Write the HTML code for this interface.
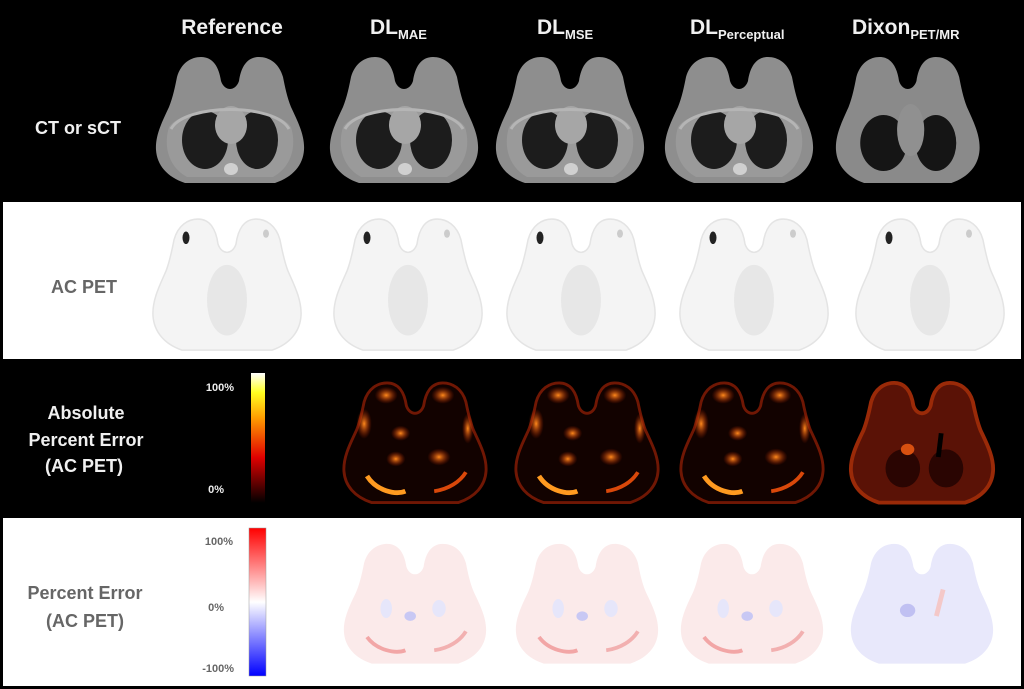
<!DOCTYPE html>
<html><head><meta charset="utf-8"><style>
html,body{margin:0;padding:0;background:#000;}
svg{display:block;}
text{font-family:"Liberation Sans",sans-serif;font-weight:bold;}
</style></head><body>
<svg width="1024" height="689" viewBox="0 0 1024 689" xmlns="http://www.w3.org/2000/svg">
<defs>
<path id="torso" d="M30,128 C12,122 2,110 1,95 C0,80 8,65 14,52 C18,42 20,32 22,22 C26,8 36,2 46,2 C58,2 64,12 66,26 C68,32 72,34 75,34 C78,34 82,32 84,26 C86,12 92,2 104,2 C114,2 124,8 128,22 C130,32 132,42 136,52 C142,65 150,80 149,95 C148,110 138,122 120,128 Z"/>
<g id="ct">
<use href="#torso" fill="#8e8e8e"/>
<path d="M14,72 C30,48 120,48 136,72 C142,92 136,112 118,122 L32,122 C14,112 8,92 14,72Z" fill="#9a9a9a"/>
<ellipse cx="50" cy="85" rx="23" ry="29" fill="#1c1c1c"/>
<ellipse cx="102" cy="85" rx="21" ry="29" fill="#1c1c1c"/>
<ellipse cx="76" cy="70" rx="16" ry="19" fill="#a6a6a6"/>
<ellipse cx="76" cy="114" rx="7" ry="6" fill="#d0d0d0"/>
<path d="M16,74 C30,48 120,48 134,74" fill="none" stroke="#b5b5b5" stroke-width="3"/>
</g>
<g id="pet">
<use href="#torso" fill="#f4f4f4" stroke="#e4e4e4" stroke-width="1.5"/>
<ellipse cx="75" cy="80" rx="20" ry="34" fill="#e4e4e4" opacity="0.8"/>
<ellipse cx="34" cy="20" rx="3.5" ry="6" fill="#222"/>
<ellipse cx="114" cy="16" rx="3" ry="4" fill="#ccc"/>
</g>
<radialGradient id="hot" cx="50%" cy="50%" r="50%"><stop offset="0" stop-color="#ff8a1c"/><stop offset="1" stop-color="#b02000" stop-opacity="0"/></radialGradient>
<g id="abs">
<use href="#torso" fill="#120200"/>
<use href="#torso" fill="none" stroke="#8a1d05" stroke-width="3" opacity="0.8"/>
<path d="M25,100 C35,116 55,120 65,116" stroke="#ff9a20" stroke-width="5" fill="none"/>
<path d="M95,116 C110,114 122,106 128,96" stroke="#d9480a" stroke-width="4" fill="none"/>
<ellipse cx="60" cy="55" rx="10" ry="8" fill="url(#hot)"/>
<ellipse cx="55" cy="82" rx="10" ry="8" fill="url(#hot)"/>
<ellipse cx="100" cy="80" rx="12" ry="9" fill="url(#hot)"/>
<ellipse cx="22" cy="45" rx="8" ry="16" fill="url(#hot)"/>
<ellipse cx="130" cy="50" rx="6" ry="16" fill="url(#hot)"/>
<ellipse cx="45" cy="15" rx="12" ry="9" fill="url(#hot)"/>
<ellipse cx="104" cy="15" rx="12" ry="9" fill="url(#hot)"/>
</g>
<g id="pe">
<use href="#torso" fill="#fbeaea"/>
<path d="M25,100 C35,114 55,118 65,114" stroke="#f2a6a6" stroke-width="4" fill="none"/>
<path d="M95,114 C110,112 122,104 128,94" stroke="#f2b0b0" stroke-width="4" fill="none"/>
<ellipse cx="70" cy="78" rx="6" ry="5" fill="#c8c8f4"/>
<ellipse cx="45" cy="70" rx="6" ry="10" fill="#e6e6fa"/>
<ellipse cx="100" cy="70" rx="7" ry="9" fill="#e6e6fa"/>
</g>
<linearGradient id="hotbar" x1="0" y1="1" x2="0" y2="0"><stop offset="0" stop-color="#000"/><stop offset="0.35" stop-color="#e00000"/><stop offset="0.65" stop-color="#ff9a00"/><stop offset="0.85" stop-color="#ffff20"/><stop offset="1" stop-color="#fff"/></linearGradient>
<linearGradient id="bwr" x1="0" y1="1" x2="0" y2="0"><stop offset="0" stop-color="#0000ff"/><stop offset="0.5" stop-color="#fff"/><stop offset="1" stop-color="#ff0000"/></linearGradient>
</defs>
<rect width="1024" height="689" fill="#000"/>
<rect x="3" y="202" width="1018" height="157" fill="#fff"/>
<rect x="3" y="518" width="1018" height="168" fill="#fff"/>

<g fill="#f0f0f0" font-size="21">
<text x="232" y="34" text-anchor="middle">Reference</text>
<text x="370" y="34">DL<tspan font-size="13" dy="5">MAE</tspan></text>
<text x="537" y="34">DL<tspan font-size="13" dy="5">MSE</tspan></text>
<text x="690" y="34">DL<tspan font-size="13" dy="5">Perceptual</tspan></text>
<text x="852" y="34">Dixon<tspan font-size="13" dy="5">PET/MR</tspan></text>
</g>
<g font-size="18" text-anchor="middle">
<text x="78" y="134" fill="#f0f0f0">CT or sCT</text>
<text x="84" y="293" fill="#666">AC PET</text>
<text x="86" y="419" fill="#f0f0f0">Absolute</text>
<text x="86" y="446" fill="#f0f0f0">Percent Error</text>
<text x="84" y="472" fill="#f0f0f0">(AC PET)</text>
<text x="85" y="599" fill="#666">Percent Error</text>
<text x="85" y="627" fill="#666">(AC PET)</text>
</g>

<use href="#ct" transform="translate(155,55)"/>
<use href="#ct" transform="translate(329,55)"/>
<use href="#ct" transform="translate(495,55)"/>
<use href="#ct" transform="translate(664,55)"/>
<g transform="translate(835,55) scale(0.97,1)">
<use href="#torso" fill="#8a8a8a"/>
<ellipse cx="50" cy="88" rx="24" ry="28" fill="#151515"/>
<ellipse cx="104" cy="88" rx="21" ry="28" fill="#151515"/>
<ellipse cx="78" cy="75" rx="14" ry="26" fill="#909090"/>
</g>

<use href="#pet" transform="translate(152,217) scale(1,1.04)"/>
<use href="#pet" transform="translate(333,217) scale(1,1.04)"/>
<use href="#pet" transform="translate(506,217) scale(1,1.04)"/>
<use href="#pet" transform="translate(679,217) scale(1,1.04)"/>
<use href="#pet" transform="translate(855,217) scale(1,1.04)"/>

<use href="#abs" transform="translate(343,381) scale(0.96,0.95)"/>
<use href="#abs" transform="translate(515,381) scale(0.96,0.95)"/>
<use href="#abs" transform="translate(680,381) scale(0.96,0.95)"/>
<g transform="translate(850,381) scale(0.96,0.95)">
<use href="#torso" fill="#5a1206"/>
<use href="#torso" fill="none" stroke="#9a2a08" stroke-width="4"/>
<ellipse cx="55" cy="92" rx="18" ry="20" fill="#2a0502"/>
<ellipse cx="100" cy="92" rx="18" ry="20" fill="#2a0502"/>
<ellipse cx="60" cy="72" rx="7" ry="6" fill="#d85010"/>
<path d="M95,55 L92,80" stroke="#000" stroke-width="5"/>
</g>

<use href="#pe" transform="translate(343,542) scale(0.96,0.95)"/>
<use href="#pe" transform="translate(515,542) scale(0.96,0.95)"/>
<use href="#pe" transform="translate(680,542) scale(0.96,0.95)"/>
<g transform="translate(850,542) scale(0.96,0.95)">
<use href="#torso" fill="#e8e8fb"/>
<ellipse cx="60" cy="72" rx="8" ry="7" fill="#c0c0f2"/>
<path d="M97,50 L90,78" stroke="#f4c8c8" stroke-width="5"/>
</g>

<rect x="251" y="373" width="14" height="130" fill="url(#hotbar)"/>
<g font-size="11" fill="#eee" text-anchor="end">
<text x="234" y="391">100%</text>
<text x="224" y="493">0%</text>
</g>
<rect x="249" y="528" width="17" height="148" fill="url(#bwr)" stroke="#999" stroke-width="0.5"/>
<g font-size="11" fill="#666" text-anchor="end">
<text x="233" y="545">100%</text>
<text x="224" y="611">0%</text>
<text x="234" y="672">-100%</text>
</g>
</svg>
</body></html>
